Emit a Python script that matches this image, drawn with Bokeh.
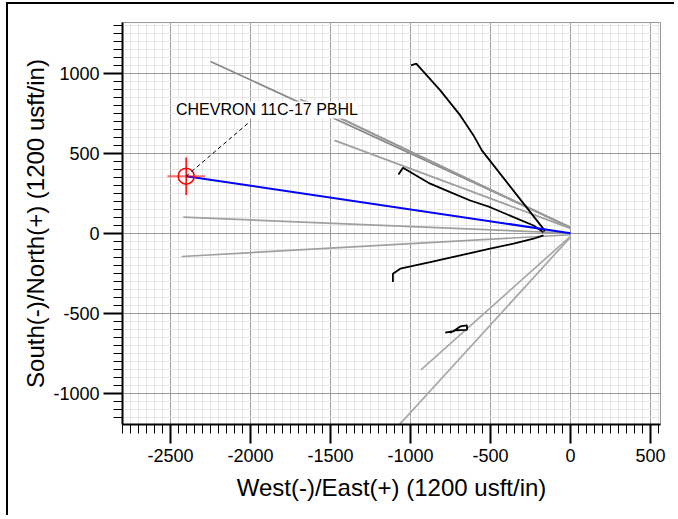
from bokeh.plotting import figure
from bokeh.models import Range1d, SingleIntervalTicker, Label, NumeralTickFormatter
from bokeh.embed import file_html
from bokeh.resources import INLINE

# ---- data ----
# planned wells (gray)
plan_x = [[-2250, 0], [-1690, 0], [-1660, 0], [-1475, 0],
          [-2420, 0], [-2430, 0], [-935, 0], [-1127, 0]]
plan_y = [[1073, 37], [837, 35], [825, 33], [580, 30],
          [100, 0], [-146, -10], [-854, -20], [-1260, -25]]
plan_colors = ["#888888", "#999999", "#999999", "#a0a0a0",
               "#a0a0a0", "#a0a0a0", "#a8a8a8", "#a8a8a8"]

# existing wells (black)
w1_x = [-997, -964, -814, -689, -606, -554, -169, -160]
w1_y = [1048, 1059, 892, 736, 611, 517, 27, 12]
w2_x = [-1075, -1047, -877, -752, -627, -502, -356, -231, -169]
w2_y = [367, 409, 309, 256, 204, 162, 100, 48, 6]
w3_x = [-169, -231, -356, -502, -689, -877, -1064, -1110, -1110]
w3_y = [-14, -35, -66, -97, -139, -181, -222, -254, -306]
w4_x = [-783, -731, -689, -647, -647, -721, -752]
w4_y = [-622, -612, -583, -577, -604, -608, -622]

# subject well plan (blue) and target
target_x = -2402
target_y = 356
blue_x = [target_x, 0]
blue_y = [target_y, 0]
target_name = "CHEVRON 11C-17 PBHL"
leader_end = (-2000, 700)
label_pos = (-2466, 770)
cross_half = 117

x_label = "West(-)/East(+) (1200 usft/in)"
y_label = "South(-)/North(+) (1200 usft/in)"

# ---- figure ----
p = figure(width=668, height=513, output_backend="svg", toolbar_location=None,
           x_range=Range1d(-2800, 562.5), y_range=Range1d(-1196, 1316.5),
           min_border_left=114, min_border_right=16, min_border_top=18,
           min_border_bottom=93)
p.styles = {"border-left": "2px solid black", "border-top": "2px solid black",
            "margin-left": "6px", "margin-top": "2px"}
p.background_fill_color = "white"
p.border_fill_color = "white"
p.outline_line_color = "#999999"
p.outline_line_width = 1

tick = SingleIntervalTicker(interval=500, num_minor_ticks=10)
for ax in (p.xaxis[0], p.yaxis[0]):
    ax.ticker = tick
    ax.formatter = NumeralTickFormatter(format="0")
    ax.axis_line_color = "black"
    ax.axis_line_width = 2
    ax.major_tick_in = 0
    ax.major_tick_out = 19
    ax.major_tick_line_width = 2
    ax.minor_tick_in = 0
    ax.minor_tick_out = 9
    ax.minor_tick_line_width = 1
    ax.minor_tick_line_color = "black"
    ax.major_tick_line_color = "black"
    ax.major_label_text_font = "Liberation Sans"
    ax.major_label_text_font_size = "18px"
    ax.major_label_text_color = "black"
    ax.axis_label_text_font = "Liberation Sans"
    ax.axis_label_text_font_size = "24px"
    ax.axis_label_text_font_style = "normal"
    ax.axis_label_text_color = "black"

p.xaxis.axis_label = x_label
p.yaxis.axis_label = y_label
p.xaxis.major_label_standoff = 5
p.yaxis.major_label_standoff = 4
p.xaxis.axis_label_standoff = 9
p.yaxis.axis_label_standoff = 1

for g in (p.xgrid[0], p.ygrid[0]):
    g.ticker = tick
    g.grid_line_color = "#9a9a9a"
    g.grid_line_width = 1
    g.minor_grid_line_color = "#e6e6e6"
    g.minor_grid_line_width = 1

# ---- glyphs ----
p.multi_line(xs=plan_x, ys=plan_y, line_color=plan_colors, line_width=1.7)

for xs, ys in ((w1_x, w1_y), (w2_x, w2_y), (w3_x, w3_y), (w4_x, w4_y)):
    p.line(xs, ys, line_color="black", line_width=1.8)

p.line(blue_x, blue_y, line_color="#0000ff", line_width=2)

# target symbol
p.segment(x0=[target_x - cross_half], y0=[target_y], x1=[target_x + cross_half], y1=[target_y],
          line_color="#ff0000", line_alpha=0.55, line_width=2)
p.segment(x0=[target_x], y0=[target_y - cross_half], x1=[target_x], y1=[target_y + cross_half],
          line_color="#ff0000", line_width=1.5)
p.scatter([target_x], [target_y], marker="circle", size=16, fill_color=None,
          line_color="#ff0000", line_width=1.5)

# leader and label
p.line([target_x, leader_end[0]], [target_y, leader_end[1]], line_color="black",
       line_width=1, line_dash="4 3")
p.add_layout(Label(x=label_pos[0], y=label_pos[1], text=target_name,
                   text_font="Liberation Sans", text_font_size="16px",
                   text_baseline="middle", text_align="left", text_color="black",
                   background_fill_color="white", background_fill_alpha=1.0))

open("out.html", "w").write(file_html(p, INLINE))
